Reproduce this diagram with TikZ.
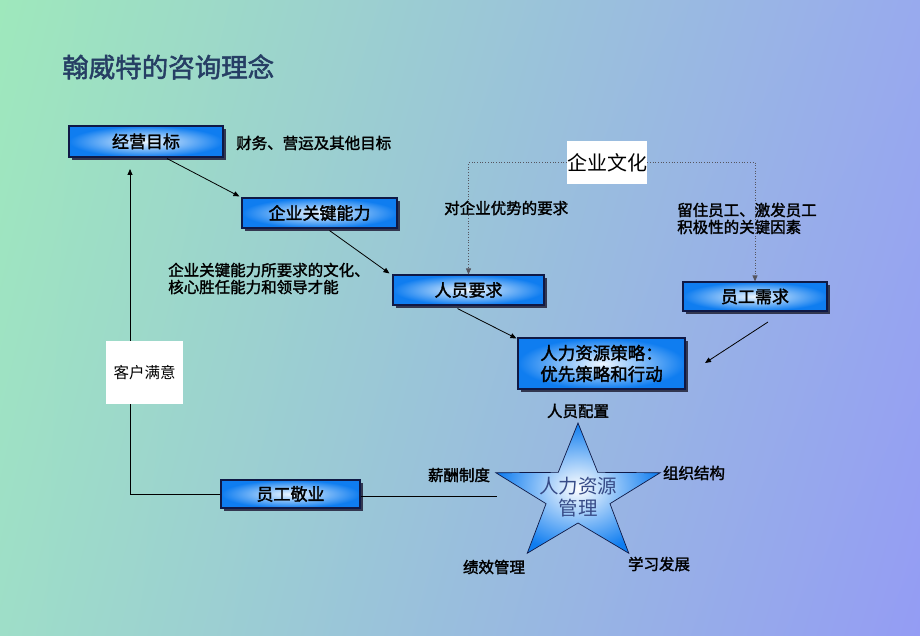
\documentclass[tikz,border=0pt]{standalone}
\usepackage{fontspec}
\setmainfont{Noto Sans CJK SC}
\newfontfamily\hei{Noto Sans CJK SC}[FakeBold=1.8]
\newfontfamily\song{Noto Sans CJK SC}
\usetikzlibrary{arrows.meta,shadows,calc,shadings}
\definecolor{bgul}{RGB}{158,232,188}
\definecolor{bgur}{RGB}{152,170,238}
\definecolor{bgll}{RGB}{158,222,200}
\definecolor{bglr}{RGB}{148,156,244}
\definecolor{boxout}{RGB}{15,125,240}
\definecolor{boxin}{RGB}{238,247,255}
\definecolor{navy}{RGB}{15,25,70}
\definecolor{shadowc}{RGB}{50,55,80}
\definecolor{titlec}{RGB}{38,62,100}
\definecolor{startext}{RGB}{55,75,135}
\definecolor{dotc}{RGB}{85,85,95}
\tikzset{
  bluebox/.style={draw=navy, line width=1.1pt, inner color=boxin, outer color=boxout,
    general shadow={fill=shadowc, shadow xshift=3pt, shadow yshift=-3pt},
    inner sep=0pt, font=\hei\fontsize{17}{19}\selectfont, align=center},
  whitebox/.style={fill=white, inner sep=0pt},
  note/.style={font=\hei\fontsize{15.5}{17}\selectfont, align=left, inner sep=0pt},
  starlab/.style={font=\hei\fontsize{15.5}{17}\selectfont, inner sep=0pt},
  arr/.style={line width=0.8pt, -{Triangle[length=6pt,width=5pt]}},
  dotarr/.style={draw=dotc, line width=0.7pt, dotted, -{Triangle[length=6pt,width=5pt]}},
}
\begin{document}
\begin{tikzpicture}[x=1pt,y=-1pt]
\useasboundingbox (0,0) rectangle (920,636);
\shade[upper left=bgul, upper right=bgur, lower left=bgll, lower right=bglr] (0,0) rectangle (920,636);

% title
\node[anchor=west, inner sep=0pt, text=titlec, font=\hei\fontsize{26.5}{30}\selectfont] (title) at (62,67) {翰威特的咨询理念};

% boxes
\node[bluebox, minimum width=154pt, minimum height=31pt] (jy) at (146,141.5) {经营目标};
\node[bluebox, minimum width=155pt, minimum height=30pt] (qy) at (319.5,213) {企业关键能力};
\node[bluebox, minimum width=151pt, minimum height=30pt] (ry) at (468.5,290) {人员要求};
\node[bluebox, minimum width=144pt, minimum height=29pt] (yx) at (755,296.5) {员工需求};
\node[bluebox, minimum width=167pt, minimum height=51pt, font=\hei\fontsize{17.5}{21}\selectfont] (hr) at (601.5,363.5) {人力资源策略：\\优先策略和行动};
\node[bluebox, minimum width=139pt, minimum height=28pt] (jyy) at (290.5,494) {员工敬业};

% notes
\node[note, anchor=west] (n1) at (236,143) {财务、营运及其他目标};
\node[note, anchor=west] (n2) at (168,278.5) {企业关键能力所要求的文化、\\核心胜任能力和领导才能};
\node[note, anchor=west] (n3) at (444,208) {对企业优势的要求};
\node[note, anchor=west] (n4) at (677,218.5) {留住员工、激发员工\\积极性的关键因素};

% coordinates for free ends
\coordinate (c1) at (130,494);
\coordinate (c2) at (130,169);
\coordinate (sl) at (497,496);
\coordinate (yxs) at (768,322);
\coordinate (hrt) at (705,363);

% connectors
\draw[arr] ($(jy.south)+(21,1)$) -- ($(qy.north west)+(-2,-1)$);
\draw[arr] ($(qy.south)+(10,2)$) -- ($(ry.north west)+(-3,-1)$);
\draw[arr] ($(ry.south)+(-11,3)$) -- ($(hr.north west)+(-1,1)$);
\draw[arr] (yxs) -- (hrt);
\draw[arr] (jyy.west) -- (c1) -- (c2);
\draw[line width=0.8pt] (jyy.east |- sl) -- (sl);

% culture box with dotted connectors
\node[whitebox, minimum width=80pt, minimum height=43pt, font=\song\fontsize{20}{22}\selectfont] (wh) at (607,162.5) {企业文化};
\draw[dotarr] (wh.west) -| (ry.north);
\draw[dotarr] (wh.east) -| (yx.north);

% customer satisfaction
\node[whitebox, minimum width=77pt, minimum height=63pt, font=\song\fontsize{15.5}{17}\selectfont] (kh) at (144.5,372.5) {客户满意};

% star
\begin{scope}[shift={(578,495)}, xscale=1.2, yscale=-1]
\shade[inner color=white, outer color=boxout, draw=navy, line width=0.7pt]
  (90:72) -- (126:28) -- (162:72) -- (198:28) -- (234:72) -- (270:28) -- (306:72) -- (342:28) -- (18:72) -- (54:28) -- cycle;
\end{scope}
\node[inner sep=0pt, align=center, text=startext, font=\song\fontsize{19.5}{22}\selectfont] (st) at (578,497) {人力资源\\管理};

\node[starlab] (l1) at (578,411) {人员配置};
\node[starlab] (l2) at (459,475) {薪酬制度};
\node[starlab] (l3) at (694,473) {组织结构};
\node[starlab] (l4) at (494,567) {绩效管理};
\node[starlab] (l5) at (659,564) {学习发展};
\end{tikzpicture}
\end{document}
